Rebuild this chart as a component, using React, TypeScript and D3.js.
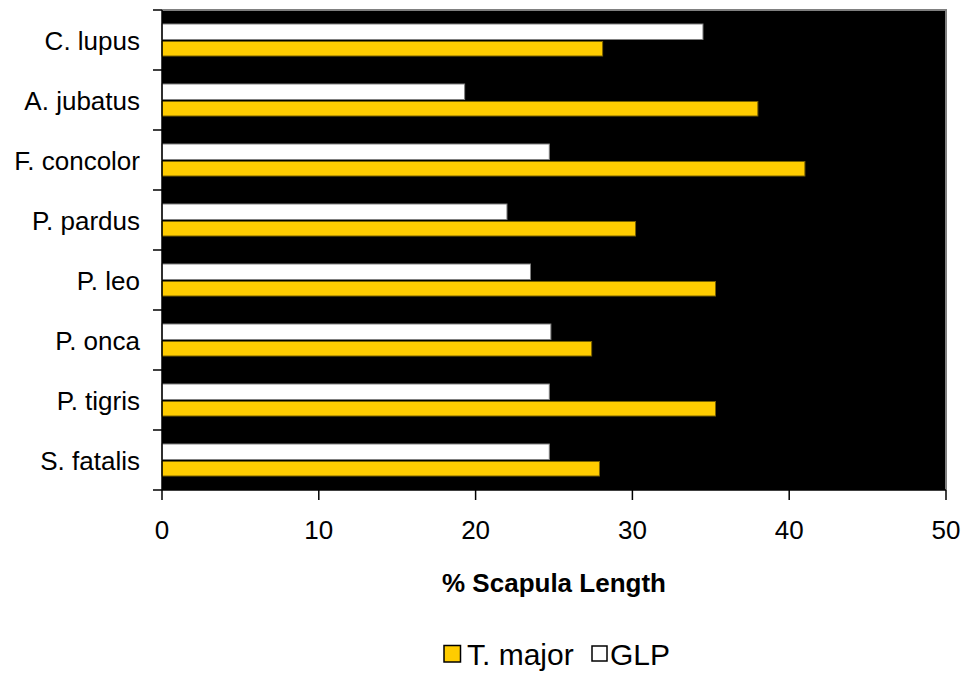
import React from "react";
import * as d3 from "d3";

const categories = ["C. lupus", "A. jubatus", "F. concolor", "P. pardus", "P. leo", "P. onca", "P. tigris", "S. fatalis"];
const tMajor = [28.1, 38.0, 41.0, 30.2, 35.3, 27.4, 35.3, 27.9];
const glp = [34.5, 19.3, 24.7, 22.0, 23.5, 24.8, 24.7, 24.7];
const seriesNames = ["GLP", "T. major"];
const xTicks = [0, 10, 20, 30, 40, 50];
const xTitle = "% Scapula Length";

const W = 965, H = 673;
const L = 162, R = 946, T = 10, B = 490;
const FONT = "Liberation Sans, Arial, sans-serif";
const YELLOW = "#FFCC00";

export default function App() {
  const x = d3.scaleLinear().domain([0, 50]).range([L, R]);
  const y = d3.scaleBand<string>().domain(categories).range([T, B]).paddingInner(0).paddingOuter(0);
  const inner = d3.scaleBand<string>().domain(seriesNames).range([0, y.bandwidth()]).paddingInner(0).paddingOuter(0.875);
  const step = y.step();
  const boundaries = d3.range(categories.length + 1).map((i) => T + i * step);

  return (
    <svg width={W} height={H} style={{ position: "absolute", left: 0, top: 0, background: "#fff" }}>
      <rect x={L} y={T} width={R - L} height={B - T} fill="#000" />
      {categories.map((c, i) => (
        <g key={c}>
          <rect x={x(0)} y={(y(c) as number) + (inner("GLP") as number)} width={x(glp[i]) - x(0)} height={inner.bandwidth() - 0.5}
            fill="#fff" stroke="#808080" strokeWidth={1} />
          <rect x={x(0)} y={(y(c) as number) + (inner("T. major") as number) + 1.5} width={x(tMajor[i]) - x(0)} height={inner.bandwidth() - 1.5}
            fill={YELLOW} stroke="#7a6200" strokeWidth={1} />
        </g>
      ))}
      {/* top and right border */}
      <line x1={L} x2={R + 1} y1={T} y2={T} stroke="#808080" strokeWidth={2} />
      <line x1={R} x2={R} y1={T} y2={B} stroke="#808080" strokeWidth={2} />
      {/* axes */}
      <line x1={L} x2={L} y1={T} y2={B} stroke="#000" strokeWidth={1.5} />
      <line x1={L} x2={R} y1={B} y2={B} stroke="#000" strokeWidth={1.5} />
      {boundaries.map((b, i) => (
        <line key={i} x1={L - 9} x2={L} y1={b} y2={b} stroke="#000" strokeWidth={1.5} />
      ))}
      {xTicks.map((t) => (
        <g key={t}>
          <line x1={x(t)} x2={x(t)} y1={B} y2={B + 10} stroke="#000" strokeWidth={1.5} />
          <text x={x(t)} y={539} textAnchor="middle" fontFamily={FONT} fontSize={26} fill="#000">{t}</text>
        </g>
      ))}
      {categories.map((c) => (
        <text key={c} x={140} y={(y(c) as number) + step / 2 + 9.5} textAnchor="end" fontFamily={FONT} fontSize={26} fill="#000">{c}</text>
      ))}
      <text x={(L + R) / 2} y={592} textAnchor="middle" fontFamily={FONT} fontSize={26} fontWeight="bold" fill="#000">{xTitle}</text>
      {/* legend */}
      <rect x={444} y={645.5} width={16.5} height={16.5} fill={YELLOW} stroke="#000" strokeWidth={1.5} />
      <text x={467} y={665} fontFamily={FONT} fontSize={30} fill="#000">T. major</text>
      <rect x={592} y={646} width={15} height={15} fill="#fff" stroke="#000" strokeWidth={1.5} />
      <text x={610} y={665} fontFamily={FONT} fontSize={30} fill="#000">GLP</text>
    </svg>
  );
}
